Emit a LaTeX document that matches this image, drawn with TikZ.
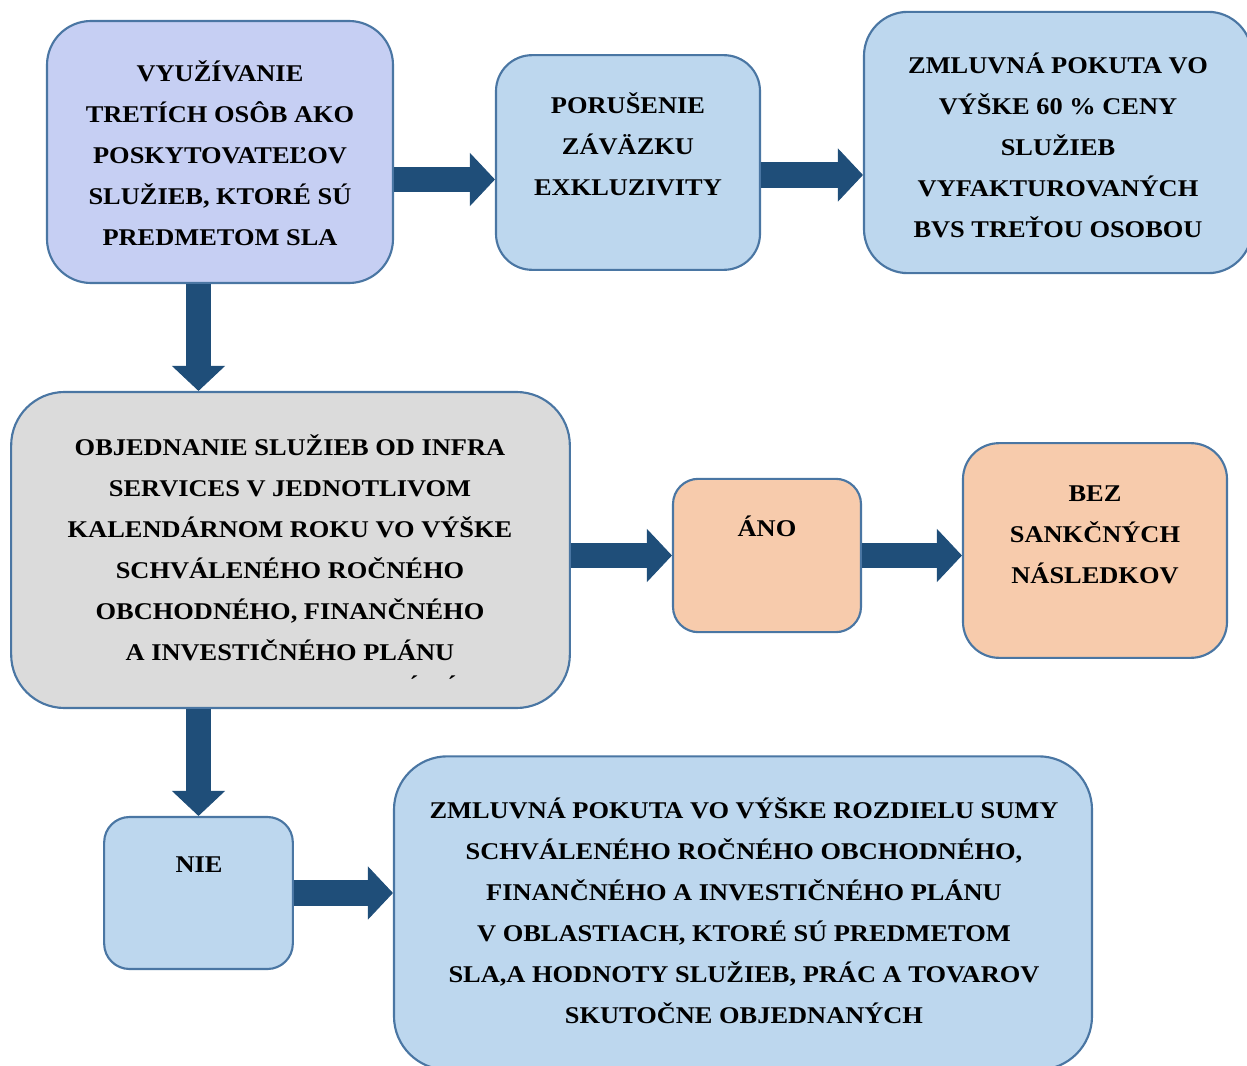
\documentclass[tikz,border=0pt]{standalone}
\usepackage{fontspec}
\usetikzlibrary{arrows.meta, calc}
\newfontfamily\boxfont{Liberation Serif}[FakeStretch=1.1]
\definecolor{slaedge}{rgb}{0.290, 0.463, 0.639}
\definecolor{slaarrow}{rgb}{0.122, 0.306, 0.475}
\definecolor{slalavender}{rgb}{0.776, 0.812, 0.953}
\definecolor{slablue}{rgb}{0.741, 0.843, 0.933}
\definecolor{slagray}{rgb}{0.859, 0.859, 0.859}
\definecolor{slapeach}{rgb}{0.969, 0.796, 0.675}

\begin{document}
\begin{tikzpicture}[x=0.75pt, y=-0.75pt,
    box/.style={draw=slaedge, line width=1.6pt, inner sep=0pt},
    boxtext/.style={align=center, inner sep=0pt,
        font=\boxfont\bfseries\fontsize{18pt}{30.75pt}\selectfont},
    bigarrow/.style={line width=19.2pt, color=slaarrow,
        -{Triangle[length=18.75pt, width=39.75pt, line width=0.75pt]}}]
        \useasboundingbox (0, 0) rectangle (1247, 1066);
        \clip (0, 0) rectangle (1247, 1066);

        % boxes
        \node [box, fill=slalavender, rounded corners=33pt, minimum width=259.5pt, minimum height=196.5pt] (Na) at (220, 152) {};
        \node [box, fill=slablue, rounded corners=27pt, minimum width=198pt, minimum height=161pt] (Nb) at (628, 162.5) {};
        \node [box, fill=slablue, rounded corners=33pt, minimum width=291pt, minimum height=196pt] (Nc) at (1058, 142.5) {};
        \node [box, fill=slagray, rounded corners=40pt, minimum width=419pt, minimum height=237pt] (Nd) at (290.5, 550) {};
        \node [box, fill=slapeach, rounded corners=19pt, minimum width=141pt, minimum height=115pt] (Ne) at (767, 555.5) {};
        \node [box, fill=slapeach, rounded corners=27pt, minimum width=198pt, minimum height=161pt] (Nf) at (1095, 550.5) {};
        \node [box, fill=slablue, rounded corners=19pt, minimum width=141.5pt, minimum height=114pt] (Ng) at (198.5, 893) {};
        \node [box, fill=slablue, rounded corners=40pt, minimum width=523.5pt, minimum height=235pt] (Nh) at (743, 913) {};

        % texts
        \node [boxtext] (Ta) at (220, 153.5) {VYUŽÍVANIE\\TRETÍCH OSÔB AKO\\POSKYTOVATEĽOV\\SLUŽIEB, KTORÉ SÚ\\PREDMETOM SLA};
        \node [boxtext] (Tb) at (628, 144) {PORUŠENIE\\ZÁVÄZKU\\EXKLUZIVITY};
        \node [boxtext] (Tc) at (1058, 145) {ZMLUVNÁ POKUTA VO\\VÝŠKE 60 \% CENY\\SLUŽIEB\\VYFAKTUROVANÝCH\\BVS TREŤOU OSOBOU};
        \node [boxtext] (Td) at (290, 547.5) {OBJEDNANIE SLUŽIEB OD INFRA\\SERVICES V JEDNOTLIVOM\\KALENDÁRNOM ROKU VO VÝŠKE\\SCHVÁLENÉHO ROČNÉHO\\OBCHODNÉHO, FINANČNÉHO\\A INVESTIČNÉHO PLÁNU};
        \node [boxtext, anchor=north] (Tcut) at (433, 676) {´\hspace{22pt}´};
        \node [boxtext] (Te) at (767, 526) {ÁNO};
        \node [boxtext] (Tf) at (1095, 535) {BEZ\\SANKČNÝCH\\NÁSLEDKOV};
        \node [boxtext] (Tg) at (199, 865) {NIE};
        \node [boxtext] (Th) at (744, 910.5) {ZMLUVNÁ POKUTA VO VÝŠKE ROZDIELU SUMY\\SCHVÁLENÉHO ROČNÉHO OBCHODNÉHO,\\FINANČNÉHO A INVESTIČNÉHO PLÁNU\\V OBLASTIACH, KTORÉ SÚ PREDMETOM\\SLA,A HODNOTY SLUŽIEB, PRÁC A TOVAROV\\SKUTOČNE OBJEDNANÝCH};

        % arrows
        \coordinate (Ra) at (0, 179.5);
        \coordinate (Rb) at (0, 175);
        \draw [bigarrow] (Na.east |- Ra) -- (Nb.west |- Ra);
        \draw [bigarrow] (Nb.east |- Rb) -- (Nc.west |- Rb);
        \draw [bigarrow] (Na.south -| Ng.north) -- (Nd.north -| Ng.north);
        \draw [bigarrow] (Nd.east |- Ne.west) -- (Ne.west);
        \draw [bigarrow] (Ne.east) -- (Nf.west |- Ne.east);
        \draw [bigarrow] (Nd.south -| Ng.north) -- (Ng.north);
        \draw [bigarrow] (Ng.east) -- (Nh.west |- Ng.east);
    \end{tikzpicture}
\end{document}
